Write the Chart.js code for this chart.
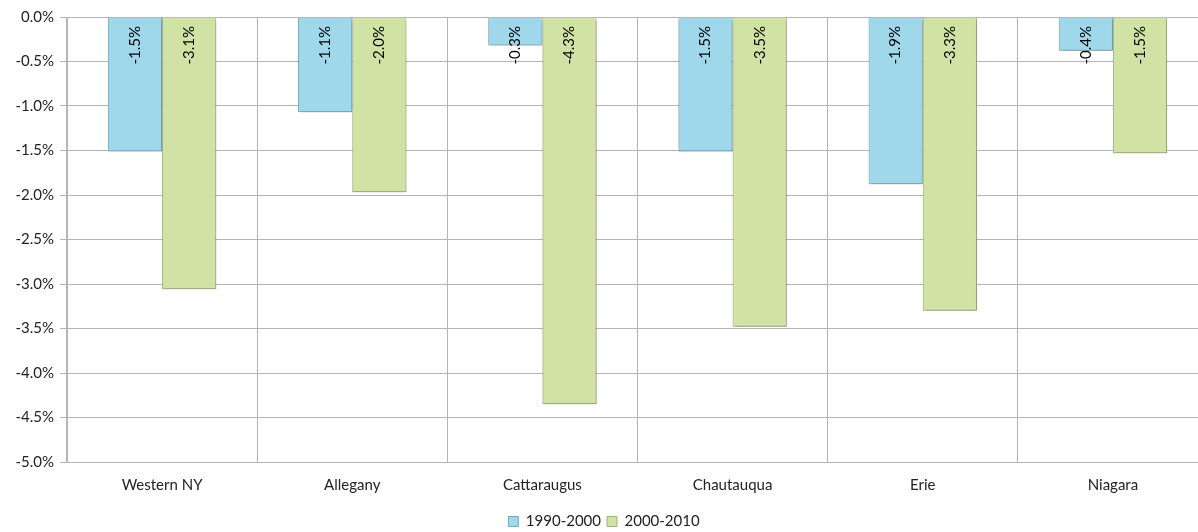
<!DOCTYPE html>
<html>
<head>
<meta charset="utf-8">
<script src="https://cdn.jsdelivr.net/npm/chart.js@4"></script>
<style>
  body { margin: 0; overflow: hidden; background: #fff; }
  #wrap { width: 1212px; height: 539px; position: relative; }
</style>
</head>
<body>
<div id="wrap"><canvas id="chart"></canvas></div>
<script>
const regions = ["Western NY", "Allegany", "Cattaraugus", "Chautauqua", "Erie", "Niagara"];
const change1990 = [-1.51, -1.07, -0.32, -1.51, -1.88, -0.38];
const change2000 = [-3.06, -1.97, -4.35, -3.48, -3.30, -1.53];
const seriesNames = ["1990-2000", "2000-2010"];

// rotated value labels sitting just under the zero line
const barLabels = {
  id: "barLabels",
  afterDatasetsDraw(chart) {
    const ctx = chart.ctx;
    const zeroY = chart.scales.y.getPixelForValue(0);
    ctx.save();
    ctx.font = "15px Lato";
    ctx.fillStyle = "#000";
    ctx.textAlign = "right";
    ctx.textBaseline = "middle";
    chart.data.datasets.forEach((ds, i) => {
      chart.getDatasetMeta(i).data.forEach((bar, j) => {
        ctx.save();
        ctx.translate(bar.x, zeroY + 9);
        ctx.rotate(-Math.PI / 2);
        ctx.fillText(ds.data[j].toFixed(1) + "%", 0, 0);
        ctx.restore();
      });
    });
    ctx.restore();
  },
};

// soft drop shadow under the bars
const barShadow = {
  id: "barShadow",
  beforeDatasetsDraw(chart) {
    const ctx = chart.ctx;
    ctx.save();
    ctx.shadowColor = "rgba(0,0,0,0.3)";
    ctx.shadowBlur = 3;
    ctx.shadowOffsetX = 1;
    ctx.shadowOffsetY = 2;
  },
  afterDatasetsDraw(chart) {
    chart.ctx.restore();
  },
};

new Chart(document.getElementById("chart"), {
  type: "bar",
  data: {
    labels: regions,
    datasets: [
      {
        label: seriesNames[0],
        data: change1990,
        backgroundColor: "#9ed8ea",
        borderColor: "#72a9ba",
        borderWidth: 1,
      },
      {
        label: seriesNames[1],
        data: change2000,
        backgroundColor: "#d1e2a5",
        borderColor: "#9fb27c",
        borderWidth: 1,
      },
    ],
  },
  options: {
    responsive: true,
    maintainAspectRatio: false,
    animation: false,
    datasets: {
      bar: { categoryPercentage: 0.57, barPercentage: 1.0 },
    },
    layout: { padding: { top: 17, right: 4, left: 0, bottom: 0 } },
    scales: {
      x: {
        grid: { color: "#b4b4b4", drawTicks: false, offset: true },
        border: { color: "#b4b4b4" },
        ticks: { color: "#222", font: { family: "Lato", size: 15 }, padding: 14 },
      },
      y: {
        min: -5,
        max: 0,
        afterFit(scale) { scale.width = 67; },
        grid: { color: "#b4b4b4", drawTicks: true, tickLength: 7 },
        border: { color: "#b4b4b4" },
        ticks: {
          stepSize: 0.5,
          color: "#222",
          font: { family: "Lato", size: 15 },
          padding: 6,
          callback: (v) => v.toFixed(1) + "%",
        },
      },
    },
    plugins: {
      legend: {
        position: "bottom",
        labels: {
          color: "#222",
          font: { family: "Lato", size: 15 },
          boxWidth: 10,
          boxHeight: 10,
          padding: 6,
        },
      },
      tooltip: { enabled: false },
    },
  },
  plugins: [barShadow, barLabels],
});
</script>
</body>
</html>
